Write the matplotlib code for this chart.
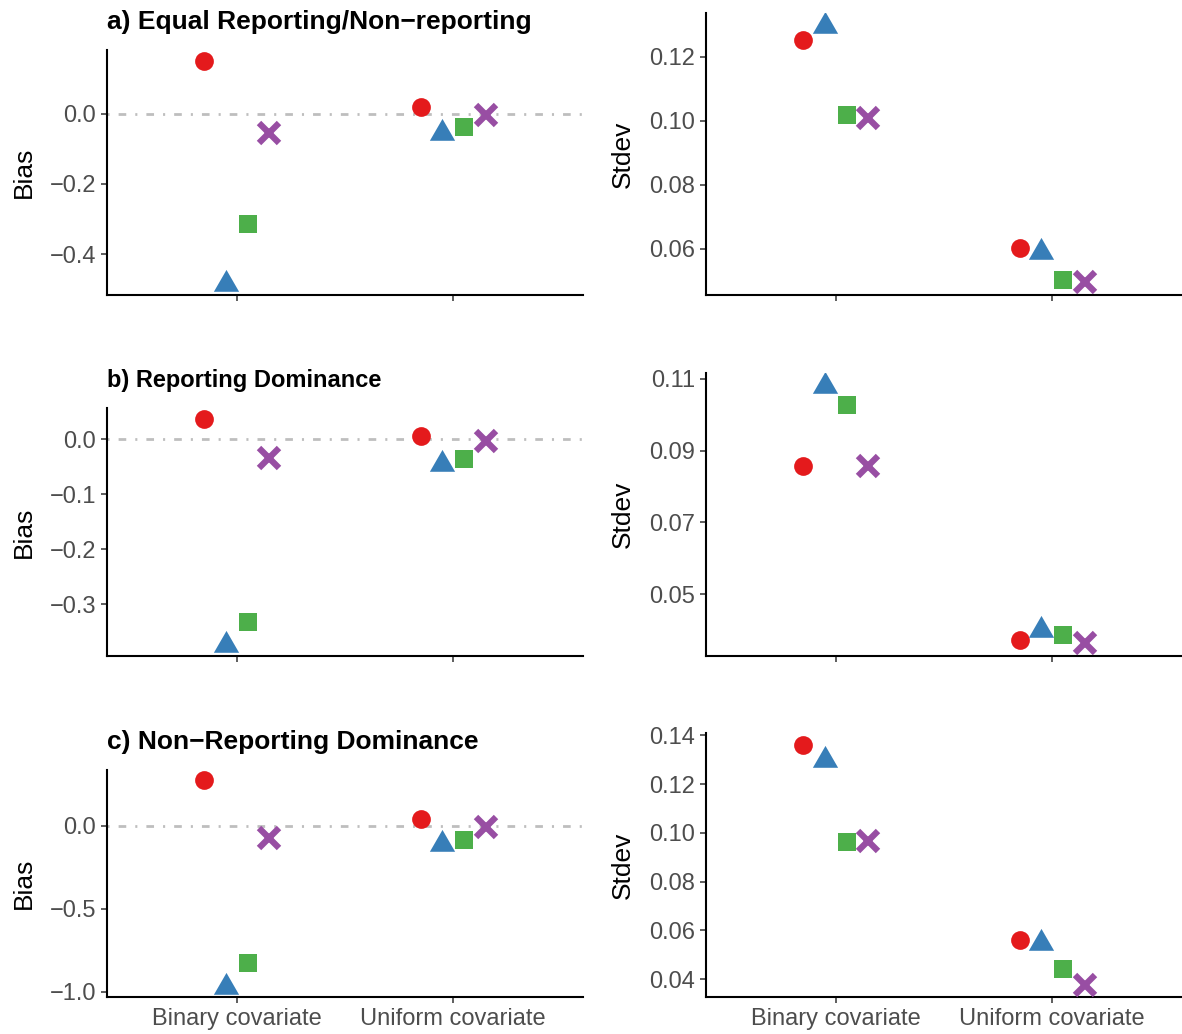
import matplotlib
matplotlib.use("Agg")
import matplotlib.pyplot as plt
from matplotlib.ticker import FuncFormatter
import numpy as np

# categories on the x axis
categories = ["Binary covariate", "Uniform covariate"]

# four estimators: red circle, blue triangle, green square, purple cross
# each row = one estimator, values for [binary, uniform]
bias_a = [[0.149, 0.020], [-0.484, -0.055], [-0.315, -0.037], [-0.056, -0.003]]
stdev_a = [[0.1253, 0.0601], [0.1297, 0.0588], [0.1017, 0.0501], [0.1008, 0.0495]]
bias_b = [[0.036, 0.005], [-0.374, -0.045], [-0.333, -0.036], [-0.034, -0.004]]
stdev_b = [[0.0856, 0.0372], [0.108, 0.0400], [0.1028, 0.0386], [0.0856, 0.0364]]
bias_c = [[0.275, 0.042], [-0.970, -0.108], [-0.826, -0.084], [-0.072, -0.006]]
stdev_c = [[0.136, 0.056], [0.1299, 0.0548], [0.0963, 0.044], [0.0967, 0.0376]]

titles = ["a) Equal Reporting/Non\u2212reporting", "b) Reporting Dominance",
          "c) Non\u2212Reporting Dominance"]
bias_ticks = [[-0.4, -0.2, 0.0], [-0.3, -0.2, -0.1, 0.0], [-1.0, -0.5, 0.0]]
stdev_ticks = [[0.06, 0.08, 0.10, 0.12], [0.05, 0.07, 0.09, 0.11],
               [0.04, 0.06, 0.08, 0.10, 0.12, 0.14]]

colors = ["#E41A1C", "#377EB8", "#4DAF4A", "#984EA3"]
# triangle like R's pch 17: data point at the circumcentre
tri = [(0, 1), (-0.866, -0.5), (0.866, -0.5), (0, 1)]
markers = ["o", tri, "s", "x"]
msizes = [13.5, 21, 13, 14]
offsets = [-0.15, -0.05, 0.05, 0.15]

plt.rcParams['font.family'] = ['Liberation Sans', 'DejaVu Sans']
plt.rcParams['lines.scale_dashes'] = False

W, H = 1182, 1034
fig = plt.figure(figsize=(W / 100.0, H / 100.0), dpi=100)


def add_ax(x0, x1, top, bottom):
    return fig.add_axes([x0 / W, 1 - bottom / H, (x1 - x0) / W, (bottom - top) / H])


def fmt(dec):
    return FuncFormatter(lambda v, p: ("%." + str(dec) + "f") % v if v >= 0
                         else "\u2212" + ("%." + str(dec) + "f") % (-v))


def draw(ax, vals, ticks, dec, ylabel, zero_line, show_x):
    x = np.arange(1, len(categories) + 1)
    if zero_line:
        ax.axhline(0, color="#BEBEBE", lw=2, dashes=(1.5, 6.5, 5.5, 6.5), zorder=1)
    for i, v in enumerate(vals):
        if markers[i] == "x":
            ax.plot(x + offsets[i], v, linestyle="", marker="x", ms=msizes[i],
                    mew=4.5, color=colors[i], zorder=3)
        else:
            ax.plot(x + offsets[i], v, linestyle="", marker=markers[i], ms=msizes[i],
                    mew=0, color=colors[i], zorder=3)
    allv = np.array(vals)
    lo, hi = allv.min(), allv.max()
    pad = 0.05 * (hi - lo)
    ax.set_ylim(lo - pad, hi + pad)
    ax.set_xlim(0.4, len(categories) + 0.6)
    ax.set_yticks(ticks)
    ax.yaxis.set_major_formatter(fmt(dec))
    ax.set_xticks(x)
    if show_x:
        ax.set_xticklabels(categories)
    else:
        ax.set_xticklabels([])
    for s in ["top", "right"]:
        ax.spines[s].set_visible(False)
    for s in ["left", "bottom"]:
        ax.spines[s].set_linewidth(1.5)
        ax.spines[s].set_color("black")
    ax.tick_params(length=4, width=1.1, color="#333333", labelsize=17,
                   labelcolor="#4D4D4D", pad=4)
    ax.set_ylabel(ylabel, fontsize=19, color="black")
    ax.yaxis.set_label_coords(-0.149, 0.5)


rows = [(bias_a, stdev_a), (bias_b, stdev_b), (bias_c, stdev_c)]
left_tops = [50, 408, 770]
right_tops = [13, 373, 733]
bottoms = [295, 656, 997]
title_y = [22, 381, 742]
title_sizes = [19, 17, 19]

for r in range(3):
    axl = add_ax(107, 583, left_tops[r], bottoms[r])
    draw(axl, rows[r][0], bias_ticks[r], 1, "Bias", True, r == 2)
    axr = add_ax(706, 1182, right_tops[r], bottoms[r])
    draw(axr, rows[r][1], stdev_ticks[r], 2, "Stdev", False, r == 2)
    fig.text(107 / W, 1 - title_y[r] / H, titles[r], fontsize=title_sizes[r],
             fontweight="bold", ha="left", va="center")

plt.savefig("out.png", dpi=100)
